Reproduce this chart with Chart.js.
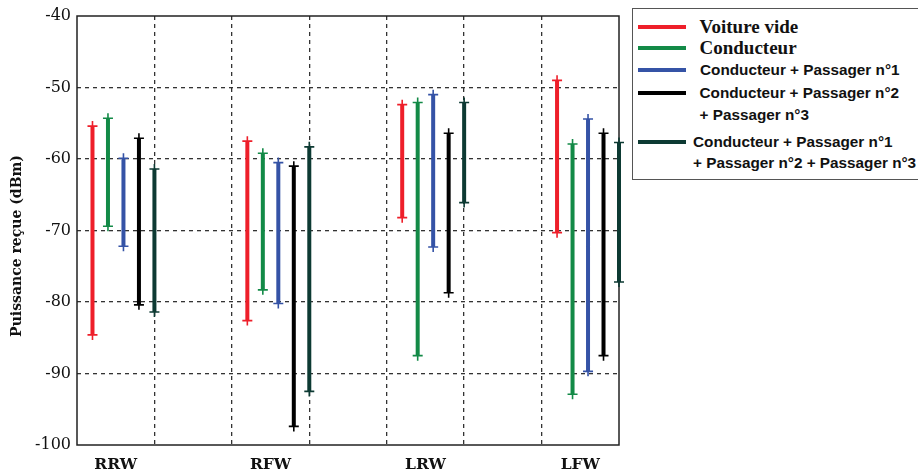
<!DOCTYPE html>
<html>
<head>
<meta charset="utf-8">
<script src="https://cdn.jsdelivr.net/npm/chart.js@4/dist/chart.umd.min.js"></script>
<style>
  html, body { margin:0; padding:0; background:#fff; overflow:hidden; }
  #wrap { position:relative; width:918px; height:475px; overflow:hidden; }
  #chartBox { position:absolute; left:0; top:0; width:630px; height:475px; }
  #legend { position:absolute; left:632px; top:8px; width:300px; height:172px; border:1.5px solid #555; box-sizing:border-box; }
  .lg-line { position:absolute; left:4.5px; width:48px; height:4px; }
  .lg-text { position:absolute; white-space:nowrap; color:#111; line-height:20px; height:20px; }
  .serif { font-family:"Liberation Serif","DejaVu Serif",serif; font-weight:bold; font-size:19px; }
  .sans { font-family:"Liberation Sans","DejaVu Sans",sans-serif; font-weight:bold; font-size:15.3px; }
</style>
</head>
<body>
<div id="wrap">
  <div id="chartBox"><canvas id="c" width="630" height="475"></canvas></div>
  <div id="legend"></div>
</div>
<script>
// ---- data ----
const categories = ["RRW", "RFW", "LRW", "LFW"];
const seriesNames = [
  "Voiture vide",
  "Conducteur",
  "Conducteur + Passager n°1",
  "Conducteur + Passager n°2\n+ Passager n°3",
  "Conducteur + Passager n°1\n+ Passager n°2 + Passager n°3"
];
const seriesColors = ["#ee1f2a", "#138a47", "#3553a6", "#000000", "#0d3a33"];
// max (top) and min (bottom) received power per category, dBm
const videHigh  = [-55.4, -57.5, -52.4, -49.0];
const videLow   = [-84.6, -82.6, -68.2, -70.3];
const condHigh  = [-54.3, -59.2, -52.1, -57.9];
const condLow   = [-69.4, -78.3, -87.5, -92.9];
const p1High    = [-59.9, -60.5, -51.0, -54.4];
const p1Low     = [-72.2, -80.2, -72.3, -89.7];
const p23High   = [-57.1, -61.0, -56.4, -56.4];
const p23Low    = [-80.4, -97.4, -78.7, -87.5];
const p123High  = [-61.4, -58.3, -52.1, -57.7];
const p123Low   = [-81.4, -92.5, -66.1, -77.2];
const yTicks = [-100, -90, -80, -70, -60, -50, -40];
const yTitle = "Puissance reçue (dBm)";

const highs = [videHigh, condHigh, p1High, p23High, p123High];
const lows  = [videLow, condLow, p1Low, p23Low, p123Low];

// each category occupies two grid cells; series sit at 0.2 steps in the first cell
function xPos(ci, si) { return ci * 2 + 0.2 * (si + 1); }

const datasets = seriesNames.map((name, si) => {
  const pts = [];
  categories.forEach((cat, ci) => {
    const x = xPos(ci, si);
    pts.push({x: x, y: highs[si][ci]});
    pts.push({x: x, y: lows[si][ci]});
    pts.push({x: x, y: null});
  });
  return {
    label: name,
    data: pts,
    borderColor: seriesColors[si],
    backgroundColor: seriesColors[si],
    borderWidth: 4,
    pointStyle: 'cross',
    pointRadius: 5,
    pointBorderWidth: 1.6,
    pointHoverRadius: 5,
    spanGaps: false,
    tension: 0,
    clip: false
  };
});

const framePlugin = {
  id: 'frame',
  beforeDatasetsDraw(chart) {
    const {ctx, chartArea: a} = chart;
    ctx.save();
    ctx.setLineDash([]);
    ctx.strokeStyle = '#222';
    ctx.lineWidth = 1.5;
    ctx.strokeRect(a.left, a.top, a.right - a.left, a.bottom - a.top);
    // y-axis title
    ctx.translate(17, 246);
    ctx.rotate(-Math.PI / 2);
    ctx.fillStyle = '#111';
    ctx.font = 'bold 14px "DejaVu Serif", serif';
    ctx.textAlign = 'center';
    ctx.textBaseline = 'middle';
    ctx.fillText(yTitle, 0, 0);
    ctx.restore();
  }
};

new Chart(document.getElementById('c'), {
  type: 'line',
  data: { datasets },
  plugins: [framePlugin],
  options: {
    responsive: false,
    animation: false,
    layout: { padding: { left: 0, right: 8, top: 16, bottom: 0 } },
    plugins: { legend: { display: false }, tooltip: { enabled: false } },
    scales: {
      x: {
        type: 'linear',
        min: 0, max: 7,
        afterFit(s) { s.height = 30; },
        afterBuildTicks(s) {
          const t = [];
          for (let v = 0; v <= 14; v++) t.push({value: v / 2});
          s.ticks = t;
        },
        ticks: {
          autoSkip: false, maxRotation: 0, padding: 11,
          color: '#111',
          font: { family: '"DejaVu Serif", serif', size: 15.5, weight: 'bold' },
          callback(v) {
            const k = (v - 0.5) / 2;
            return Number.isInteger(k) && categories[k] ? categories[k] : '';
          }
        },
        grid: {
          drawTicks: false,
          lineWidth: 1.3,
          color(ctx) {
            const v = ctx.tick && ctx.tick.value;
            return (Number.isInteger(v) && v > 0 && v < 7) ? '#333' : 'rgba(0,0,0,0)';
          }
        },
        border: { display: false, dash: [4, 4] }
      },
      y: {
        min: -100, max: -40,
        afterFit(s) { s.width = 77; },
        afterBuildTicks(s) { s.ticks = yTicks.map(v => ({value: v})); },
        ticks: {
          padding: 6, color: '#111',
          font: { family: '"DejaVu Serif", serif', size: 16 }
        },
        grid: {
          drawTicks: false,
          lineWidth: 1.3,
          color(ctx) {
            const v = ctx.tick && ctx.tick.value;
            return (v > -100 && v < -40) ? '#333' : 'rgba(0,0,0,0)';
          }
        },
        border: { display: false, dash: [4, 4] }
      }
    }
  }
});

// ---- legend (HTML) ----
const legend = document.getElementById('legend');
const lineTop = [15.5, 36.5, 58.5, 81.5, 130.5];
const textLayout = [
  {cls: 'serif', x: 66.5, y: [7.5]},
  {cls: 'serif', x: 66.5, y: [28.5]},
  {cls: 'sans',  x: 67,   y: [50.5]},
  {cls: 'sans',  x: 66.5, y: [73.5, 95.5]},
  {cls: 'sans',  x: 60,   y: [122.5, 143.5]}
];
seriesNames.forEach((name, i) => {
  const ln = document.createElement('div');
  ln.className = 'lg-line';
  ln.style.top = lineTop[i] + 'px';
  ln.style.background = seriesColors[i];
  legend.appendChild(ln);
  name.split('\n').forEach((part, j) => {
    const t = document.createElement('div');
    t.className = 'lg-text ' + textLayout[i].cls;
    t.style.left = textLayout[i].x + 'px';
    t.style.top = textLayout[i].y[j] + 'px';
    t.textContent = part;
    legend.appendChild(t);
  });
});
</script>
</body>
</html>
